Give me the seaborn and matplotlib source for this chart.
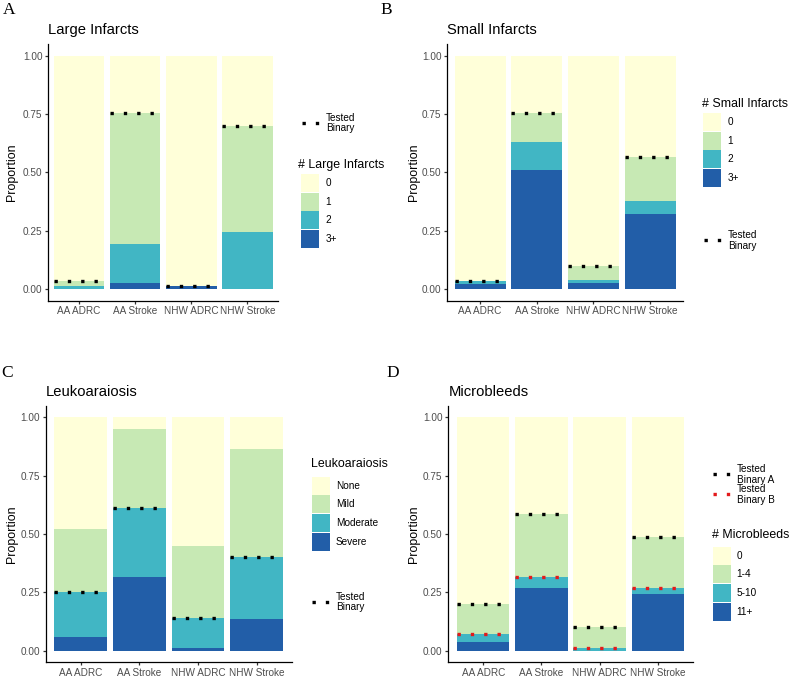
import numpy as np
import pandas as pd
import matplotlib
matplotlib.use("Agg")
import matplotlib.pyplot as plt
import matplotlib.transforms as mtransforms
from matplotlib.patches import Rectangle
from matplotlib.lines import Line2D
import seaborn as sns

# ---------------- data ----------------
groups = ["AA ADRC", "AA Stroke", "NHW ADRC", "NHW Stroke"]
palette = ["#FFFFD9", "#C7E9B4", "#41B6C4", "#225EA8"]  # level order: lowest -> highest

# A: Large infarcts (segment proportions)
large_levels = ["0", "1", "2", "3+"]
large_0 = [0.965, 0.245, 0.987, 0.300]
large_1 = [0.023, 0.560, 0.000, 0.455]
large_2 = [0.012, 0.170, 0.000, 0.245]
large_3p = [0.000, 0.025, 0.013, 0.000]
large_binary = [0.035, 0.755, 0.013, 0.700]

# B: Small infarcts
small_levels = ["0", "1", "2", "3+"]
small_0 = [0.965, 0.245, 0.900, 0.434]
small_1 = [0.000, 0.123, 0.063, 0.188]
small_2 = [0.012, 0.122, 0.011, 0.056]
small_3p = [0.023, 0.510, 0.026, 0.322]
small_binary = [0.035, 0.755, 0.100, 0.566]

# C: Leukoaraiosis
leuko_levels = ["None", "Mild", "Moderate", "Severe"]
leuko_none = [0.477, 0.049, 0.551, 0.134]
leuko_mild = [0.273, 0.341, 0.308, 0.463]
leuko_moderate = [0.190, 0.293, 0.128, 0.267]
leuko_severe = [0.060, 0.317, 0.013, 0.136]
leuko_binary = [0.250, 0.610, 0.141, 0.403]

# D: Microbleeds
mb_levels = ["0", "1-4", "5-10", "11+"]
mb_0 = [0.800, 0.414, 0.897, 0.513]
mb_1_4 = [0.129, 0.270, 0.093, 0.217]
mb_5_10 = [0.034, 0.049, 0.010, 0.027]
mb_11p = [0.037, 0.267, 0.000, 0.243]
mb_binary_a = [0.200, 0.586, 0.103, 0.487]
mb_binary_b = [0.071, 0.316, 0.010, 0.270]

# ---------------- style ----------------
W, H = 789, 677
plt.rcParams["font.family"] = ["Liberation Sans", "DejaVu Sans"]
fig = plt.figure(figsize=(W / 100, H / 100), dpi=100)
fig.patch.set_facecolor("white")
tr = mtransforms.Affine2D().scale(1 / W, -1 / H).translate(0, 1) + fig.transFigure

DOT = (0, (1, 3))
DOT_LW = 2.4
RED = "#E31A1C"


def make_axes(left, right, top, bottom):
    return fig.add_axes([left / W, 1 - bottom / H, (right - left) / W, (bottom - top) / H])


def stacked_panel(ax, segments, binaries, bin_colors, title, exp, title_pad):
    # segments listed top level first (level "0" on top)
    seg = np.array(segments)
    for i in range(len(seg)):
        tops = seg[i:].sum(axis=0)
        df = pd.DataFrame({"group": groups, "top": tops})
        sns.barplot(data=df, x="group", y="top", order=groups, color=palette[i],
                    saturation=1, width=0.9, errorbar=None, linewidth=0,
                    edgecolor="none", ax=ax)
    xpos = np.arange(len(groups))
    for b, c in zip(binaries, bin_colors):
        ax.hlines(b, xpos - 0.45, xpos + 0.45, colors=c, linewidth=DOT_LW,
                  linestyles=DOT, zorder=3)
    ax.set_xlim(-exp, len(groups) - 1 + exp)
    ax.set_ylim(-0.05, 1.05)
    ax.set_yticks([0, 0.25, 0.5, 0.75, 1.0])
    ax.set_yticklabels(["0.00", "0.25", "0.50", "0.75", "1.00"])
    ax.set_xlabel("")
    ax.set_ylabel("")
    ax.set_facecolor("white")
    sns.despine(ax=ax)
    for s in ("left", "bottom"):
        ax.spines[s].set_linewidth(0.9)
        ax.spines[s].set_color("black")
    ax.tick_params(axis="both", length=2.4, width=0.9, color="#333333",
                   labelsize=7.2, labelcolor="#4D4D4D")
    ax.tick_params(axis="y", pad=1.8)
    ax.tick_params(axis="x", pad=1.6)
    ax.set_title(title, loc="left", fontsize=10.6, pad=title_pad, color="black")


def fill_legend(title, labels, colors, x_title, y_title, x_key, key_top, x_lab):
    fig.text(x_title, y_title, title, transform=tr, fontsize=8.9, color="black",
             ha="left", va="baseline")
    step, kh, kw = 18.7, 17.8, 18.0
    for i, (lab, c) in enumerate(zip(labels, colors)):
        t = key_top + i * step
        fig.add_artist(Rectangle((x_key, t), kw, kh, transform=tr, facecolor=c,
                                 edgecolor="none"))
        fig.text(x_lab, t + kh / 2, lab, transform=tr, fontsize=7.2, color="black",
                 ha="left", va="center")


def line_legend(label, color, x0, y, x_lab):
    fig.add_artist(Line2D([x0, x0 + 17.5], [y, y], transform=tr, lw=DOT_LW,
                          ls=DOT, color=color, dash_capstyle="butt"))
    fig.text(x_lab, y + 0.5, label, transform=tr, fontsize=7.2, color="black",
             ha="left", va="center", linespacing=1.05)


def ylabel(xc, top, bottom):
    fig.text(xc, (top + bottom) / 2, "Proportion", transform=tr, fontsize=8.9,
             rotation=90, ha="center", va="center", color="black")


# ---------------- panels ----------------
axA = make_axes(48.3, 278.3, 44.3, 300.7)
stacked_panel(axA, [large_0, large_1, large_2, large_3p], [large_binary], ["black"],
              "Large Infarcts", 0.55, 7.2)
ylabel(12, 44.3, 300.7)
line_legend("Tested\nBinary", "black", 302.3, 122.7, 325.7)
fill_legend("# Large Infarcts", large_levels, palette, 298.0, 168.0, 301.0, 174.0, 325.7)

axB = make_axes(447.3, 683.0, 44.3, 300.7)
stacked_panel(axB, [small_0, small_1, small_2, small_3p], [small_binary], ["black"],
              "Small Infarcts", 0.58, 7.2)
ylabel(413.7, 44.3, 300.7)
fill_legend("# Small Infarcts", small_levels, palette, 701.7, 106.7, 703.3, 113.0, 727.7)
line_legend("Tested\nBinary", "black", 704.0, 240.0, 727.7)

axC = make_axes(45.7, 291.7, 405.6, 662.4)
stacked_panel(axC, [leuko_none, leuko_mild, leuko_moderate, leuko_severe], [leuko_binary],
              ["black"], "Leukoaraiosis", 0.6, 6.6)
ylabel(12, 405.6, 662.4)
fill_legend("Leukoaraiosis", leuko_levels, palette, 310.7, 467.3, 311.7, 476.7, 335.7)
line_legend("Tested\nBinary", "black", 312.3, 601.7, 335.7)

axD = make_axes(448.3, 692.7, 405.6, 662.4)
stacked_panel(axD, [mb_0, mb_1_4, mb_5_10, mb_11p], [mb_binary_a, mb_binary_b],
              ["black", RED], "Microbleeds", 0.6, 6.6)
ylabel(414.0, 405.6, 662.4)
line_legend("Tested\nBinary A", "black", 713.3, 474.0, 736.7)
line_legend("Tested\nBinary B", RED, 713.3, 494.0, 736.7)
fill_legend("# Microbleeds", mb_levels, palette, 711.7, 538.3, 712.7, 546.7, 736.7)

# panel letters
for letter, x, y in [("A", 2.7, 14.5), ("B", 380.0, 14.5), ("C", 1.7, 377.0), ("D", 386.7, 377.0)]:
    fig.text(x, y, letter, transform=tr, fontsize=12.5, family=["Liberation Serif", "DejaVu Serif"],
             ha="left", va="baseline", color="black")

fig.savefig("out.png", dpi=100, facecolor="white")
